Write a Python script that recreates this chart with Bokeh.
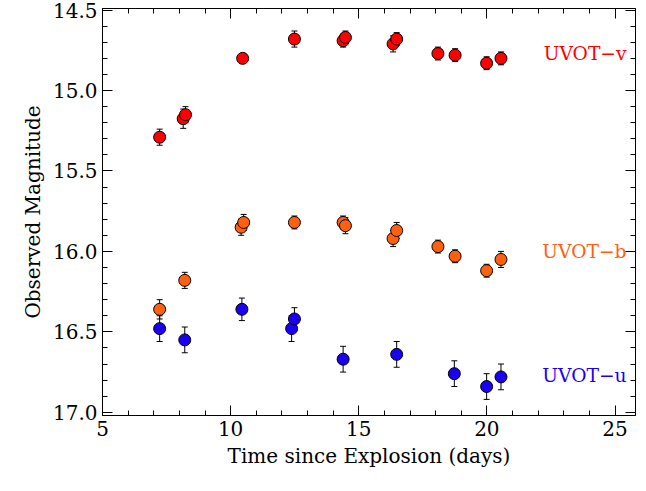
from bokeh.plotting import figure
from bokeh.models import (ColumnDataSource, Range1d, LinearAxis, Whisker, TeeHead,
                          SingleIntervalTicker, NumeralTickFormatter, CustomJSTickFormatter)
from bokeh.core.properties import value
from bokeh.embed import file_html
from bokeh.resources import INLINE

v_t = [7.23, 8.15, 8.24, 10.47, 12.49, 14.39, 14.48, 16.34, 16.48, 18.09, 18.76, 19.99, 20.55]
v_m = [15.29, 15.175, 15.15, 14.80, 14.68, 14.69, 14.67, 14.71, 14.68, 14.77, 14.78, 14.83, 14.80]
v_e = [0.05, 0.06, 0.05, 0.03, 0.05, 0.04, 0.04, 0.05, 0.04, 0.04, 0.04, 0.04, 0.04]

b_t = [7.23, 8.21, 10.41, 10.51, 12.49, 14.39, 14.48, 16.34, 16.48, 18.09, 18.76, 19.99, 20.55]
b_m = [16.36, 16.18, 15.85, 15.82, 15.82, 15.82, 15.84, 15.92, 15.87, 15.97, 16.03, 16.12, 16.05]
b_e = [0.06, 0.05, 0.05, 0.05, 0.04, 0.04, 0.05, 0.05, 0.05, 0.04, 0.04, 0.04, 0.05]

u_t = [7.23, 8.21, 10.44, 12.38, 12.49, 14.39, 16.48, 18.73, 19.99, 20.55]
u_m = [16.48, 16.55, 16.36, 16.48, 16.42, 16.67, 16.64, 16.76, 16.84, 16.78]
u_e = [0.08, 0.08, 0.07, 0.08, 0.07, 0.08, 0.08, 0.08, 0.08, 0.08]

series = [("UVOT\u2212v", v_t, v_m, v_e, "#ff0000", 14.77),
          ("UVOT\u2212b", b_t, b_m, b_e, "#ff6010", 16.0),
          ("UVOT\u2212u", u_t, u_m, u_e, "#1a00f0", 16.77)]

FONT = "DejaVu Serif"

p = figure(frame_width=533, frame_height=407, output_backend="svg", toolbar_location=None,
           x_range=Range1d(5, 25.8), y_range=Range1d(17.02, 14.49),
           min_border_left=102, min_border_right=2, min_border_top=8, min_border_bottom=60,
           x_axis_label="Time since Explosion (days)", y_axis_label="Observed Magnitude")
p.grid.visible = False
p.outline_line_color = "black"

p.xaxis.ticker = SingleIntervalTicker(interval=5, num_minor_ticks=5)
p.yaxis.ticker = SingleIntervalTicker(interval=0.5, num_minor_ticks=5)
p.yaxis.formatter = NumeralTickFormatter(format="0.0")
blank = CustomJSTickFormatter(code="return ''")
top = LinearAxis(ticker=SingleIntervalTicker(interval=5, num_minor_ticks=5), formatter=blank)
right = LinearAxis(ticker=SingleIntervalTicker(interval=0.5, num_minor_ticks=5), formatter=blank)
p.add_layout(top, "above")
p.add_layout(right, "right")
for ax in p.axis:
    ax.major_tick_in = 10
    ax.major_tick_out = 0
    ax.minor_tick_in = 5
    ax.minor_tick_out = 0
    ax.axis_line_color = "black"
    ax.major_label_text_font = FONT
    ax.axis_label_text_font = FONT
    ax.axis_label_text_font_style = "normal"
    ax.axis_label_text_color = "black"
    ax.major_label_text_color = "black"
    ax.major_label_text_font_size = "15pt"
    ax.axis_label_text_font_size = "15pt"
top.major_label_standoff = 0
right.major_label_standoff = 0

for name, t, m, e, col, ly in series:
    src = ColumnDataSource(dict(t=t, m=m, lo=[a - b for a, b in zip(m, e)], hi=[a + b for a, b in zip(m, e)]))
    w = Whisker(source=src, base="t", lower="lo", upper="hi", line_color="black", line_width=1,
                upper_head=TeeHead(size=6, line_color="black"), lower_head=TeeHead(size=6, line_color="black"))
    p.add_layout(w)
    p.scatter("t", "m", source=src, size=12, fill_color=col, line_color="black", line_width=1)
    p.text([25.45], [ly], text=[name], text_color=col, text_font=value(FONT),
           text_font_size="14pt", text_align="right", text_baseline="middle")

open("out.html", "w").write(file_html(p, INLINE))
